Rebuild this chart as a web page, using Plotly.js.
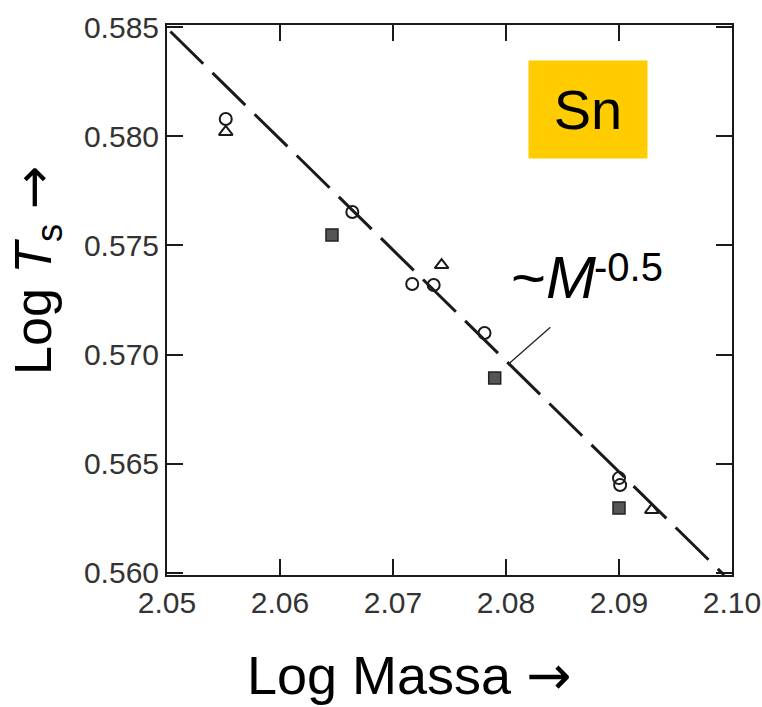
<!DOCTYPE html>
<html>
<head>
<meta charset="utf-8">
<script src="https://cdn.plot.ly/plotly-3.0.1.min.js"></script>
<style>html,body{margin:0;padding:0;background:#fff;}#chart{width:762px;height:707px;}</style>
</head>
<body>
<div id="chart"></div>
<script>
// Data (log mass vs log Ts for Sn isotopes)
const circleX = [2.0552, 2.0664, 2.0717, 2.0736, 2.0781, 2.0900, 2.0901];
const circleY = [0.58079, 0.57653, 0.57323, 0.57319, 0.57099, 0.56434, 0.56402];
const triangleX = [2.0552, 2.0743, 2.0929];
const triangleY = [0.58020, 0.57410, 0.56288];
const squareX = [2.0646, 2.0790, 2.0900];
const squareY = [0.57548, 0.56893, 0.56297];
const fitX = [2.0503, 2.0993];
const fitY = [0.5848, 0.5599];
const xTicks = [2.05, 2.06, 2.07, 2.08, 2.09, 2.10];
const xTickText = ['2.05', '2.06', '2.07', '2.08', '2.09', '2.10'];
const yTicks = [0.560, 0.565, 0.570, 0.575, 0.580, 0.585];
const yTickText = ['0.560', '0.565', '0.570', '0.575', '0.580', '0.585'];
const leaderPoint = [2.0803, 0.5696];

const FONT = 'Liberation Sans, Arial, Helvetica, sans-serif';
const ARROW = '<span style="font-family:DejaVu Sans">\u2192</span>';

const traces = [
  {x: fitX, y: fitY, mode: 'lines', type: 'scatter',
   line: {color: '#1a1a1a', width: 3, dash: '46px,13px'}, hoverinfo: 'skip'},
  {x: circleX, y: circleY, mode: 'markers', type: 'scatter',
   marker: {symbol: 'circle-open', size: 12, color: '#1a1a1a', line: {width: 2, color: '#1a1a1a'}}},
  {x: triangleX, y: triangleY, mode: 'markers', type: 'scatter',
   marker: {symbol: 'triangle-up-open', size: 12, color: '#1a1a1a', line: {width: 2, color: '#1a1a1a'}}},
  {x: squareX, y: squareY, mode: 'markers', type: 'scatter',
   marker: {symbol: 'square', size: 12, color: '#555555', line: {width: 1.5, color: '#222222'}}}
];

const axisCommon = {
  showgrid: false, zeroline: false,
  showline: true, linecolor: '#1a1a1a', linewidth: 2, mirror: 'ticks',
  ticks: 'inside', ticklen: 16, tickwidth: 2, tickcolor: '#1a1a1a',
  ticklabeloverflow: 'allow',
  tickfont: {family: FONT, size: 30, color: '#333333'}
};

const layout = {
  width: 762, height: 707,
  paper_bgcolor: '#ffffff', plot_bgcolor: '#ffffff',
  showlegend: false,
  margin: {l: 167, r: 30, t: 25, b: 132},
  xaxis: Object.assign({}, axisCommon, {
    range: [2.05, 2.10], tickmode: 'array', tickvals: xTicks, ticktext: xTickText
  }),
  yaxis: Object.assign({}, axisCommon, {
    range: [0.5599, 0.5851], tickmode: 'array', tickvals: yTicks, ticktext: yTickText
  }),
  shapes: [
    {type: 'line', xref: 'x', yref: 'y', xsizemode: 'pixel', ysizemode: 'pixel',
     xanchor: leaderPoint[0], yanchor: leaderPoint[1], x0: 0, y0: 0, x1: 41, y1: 36,
     line: {color: '#222', width: 1.3}}
  ],
  annotations: [
    {xref: 'paper', yref: 'paper', x: 0.138, y: -0.183, xanchor: 'left', yanchor: 'middle',
     text: 'Log Massa ' + ARROW, showarrow: false,
     font: {family: FONT, size: 54, color: '#000'}},
    {xref: 'paper', yref: 'paper', x: -0.232, y: 0.5545, xanchor: 'center', yanchor: 'middle',
     textangle: -90, text: 'Log <i>T</i><sub>s</sub> ' + ARROW, showarrow: false,
     font: {family: FONT, size: 52, color: '#000'}},
    {xref: 'paper', yref: 'paper', x: 0.745, y: 0.8455, xanchor: 'center', yanchor: 'middle',
     text: 'Sn', showarrow: false, bgcolor: '#FFCC00', borderpad: 0, width: 118, height: 97,
     font: {family: FONT, size: 56, color: '#000'}},
    {xref: 'paper', yref: 'paper', x: 0.605, y: 0.541, xanchor: 'left', yanchor: 'middle',
     text: '~<i>M</i>', showarrow: false,
     font: {family: FONT, size: 60, color: '#000'}},
    {xref: 'paper', yref: 'paper', x: 0.753, y: 0.56, xanchor: 'left', yanchor: 'middle',
     text: '-0.5', showarrow: false,
     font: {family: FONT, size: 40, color: '#000'}}
  ]
};

Plotly.newPlot('chart', traces, layout, {displayModeBar: false, staticPlot: true});
</script>
</body>
</html>
